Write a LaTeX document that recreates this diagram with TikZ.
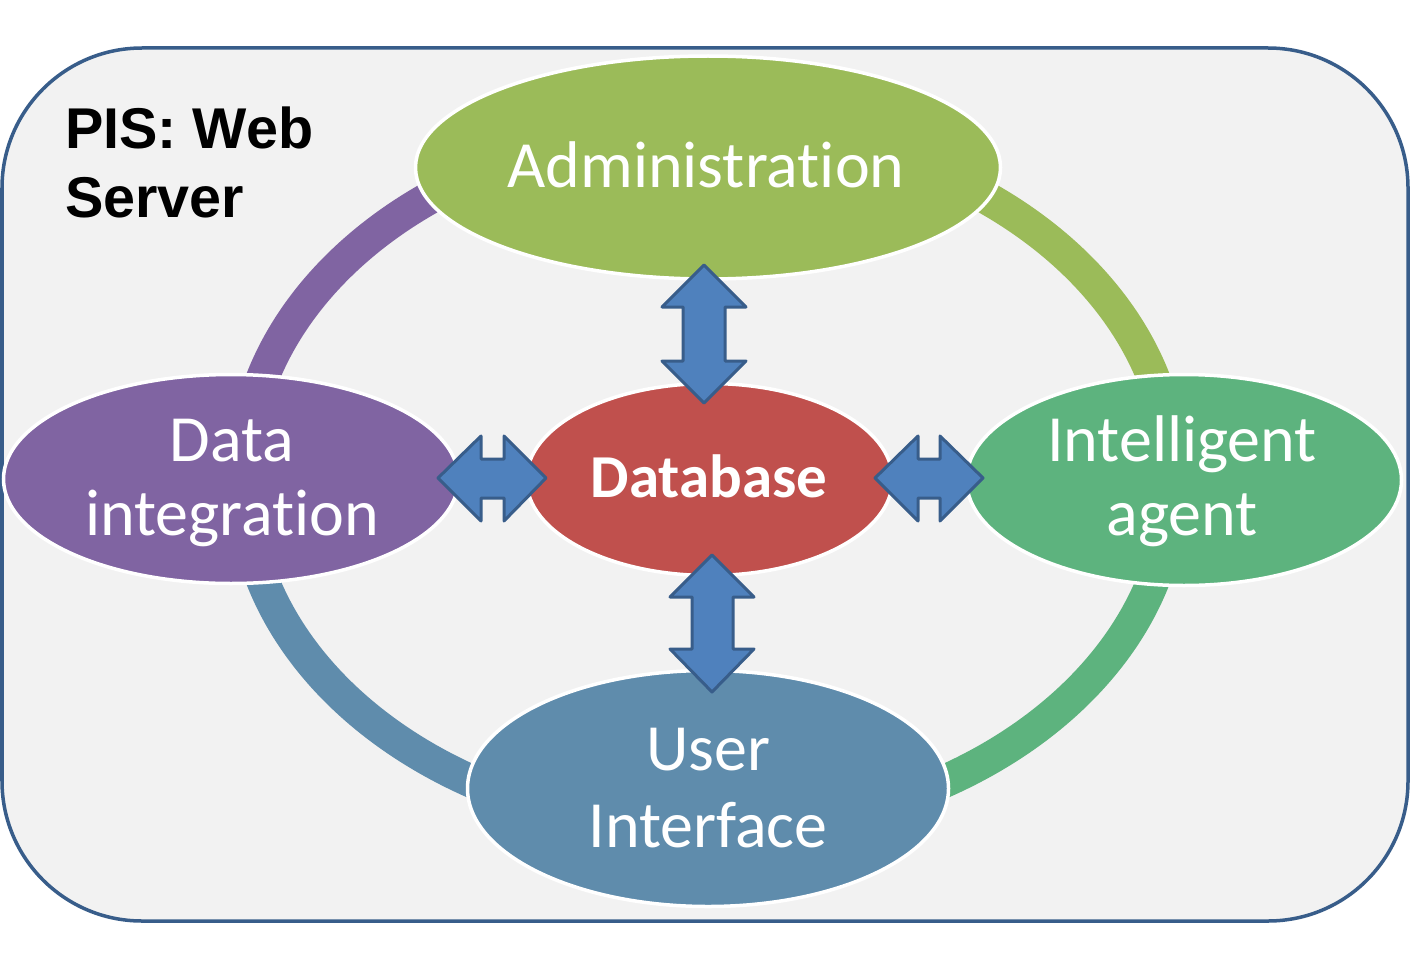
\documentclass[tikz,border=0pt]{standalone}
\usepackage{fontspec}
\setmainfont{Carlito}[Ligatures=NoCommon]
\newfontfamily\pisfont{Liberation Sans}
\usetikzlibrary{shapes.geometric}
\definecolor{bgfill}{HTML}{F2F2F2}
\definecolor{framec}{HTML}{385D8A}
\definecolor{cadmin}{HTML}{9BBB59}
\definecolor{cdata}{HTML}{8064A2}
\definecolor{cintel}{HTML}{5DB37E}
\definecolor{cui}{HTML}{5F8CAC}
\definecolor{cdb}{HTML}{C0504D}
\definecolor{carrow}{HTML}{4F81BD}
\tikzset{
  frame/.style={draw=framec, line width=3.5pt, fill=bgfill, rounded corners=140pt},
  ring/.style={line width=33pt},
  bubble/.style={ellipse, draw=white, line width=3.5pt, inner sep=0pt, outer sep=0pt},
  lbl/.style={text=white, inner sep=0pt, anchor=base, font=\fontsize{66}{75}\selectfont},
  dblbl/.style={text=white, inner sep=0pt, anchor=base, font=\fontsize{61}{70}\selectfont\bfseries},
  pislbl/.style={text=black, inner sep=0pt, anchor=base west, font=\pisfont\fontsize{57.5}{69}\selectfont\bfseries},
  blockarrow/.style={fill=carrow, draw=framec, line width=3pt, line join=round},
}
\begin{document}
\begin{tikzpicture}[x=1pt, y=-1pt]
\useasboundingbox (0,0) rectangle (1410,963);
% frame
\draw[frame] (2,48) rectangle (1408,921);
% ring arcs
\coordinate (ringc) at (708,479);
\draw[ring, draw=cdata]  (ringc) ++(180:465 and 351) arc[start angle=180, end angle=270, x radius=465, y radius=351];
\draw[ring, draw=cadmin] (ringc) ++(270:465 and 351) arc[start angle=270, end angle=360, x radius=465, y radius=351];
\draw[ring, draw=cintel] (ringc) ++(0:465 and 351) arc[start angle=0, end angle=90, x radius=465, y radius=351];
\draw[ring, draw=cui]    (ringc) ++(90:465 and 351) arc[start angle=90, end angle=180, x radius=465, y radius=351];
% bubbles
\node[bubble, fill=cadmin, minimum width=585pt, minimum height=223pt] (admin) at (708,167.5) {};
\node[bubble, fill=cdata, minimum width=455pt, minimum height=209pt] (data) at (231,479) {};
\node[bubble, fill=cintel, minimum width=435pt, minimum height=211pt] (intel) at (1184,480) {};
\node[bubble, fill=cui, minimum width=481pt, minimum height=236pt] (ui) at (708,788.5) {};
\node[bubble, fill=cdb, minimum width=366pt, minimum height=192pt] (db) at (709.5,479.5) {};
% block arrows
\draw[blockarrow] (704,265) -- (746,307) -- (725,307) -- (725,361) -- (746,361) -- (704,403)
  -- (662,361) -- (683,361) -- (683,307) -- (662,307) -- cycle;
\draw[blockarrow] (712,555) -- (754,597) -- (733,597) -- (733,649) -- (754,649) -- (712,692)
  -- (670,649) -- (692,649) -- (692,597) -- (670,597) -- cycle;
\draw[blockarrow] (438,478) -- (481,436) -- (481,459) -- (504,459) -- (504,436) -- (546,478)
  -- (504,521) -- (504,498) -- (481,498) -- (481,521) -- cycle;
\draw[blockarrow] (875,478) -- (918,436) -- (918,459) -- (940,459) -- (940,436) -- (983,478)
  -- (940,521) -- (940,498) -- (918,498) -- (918,521) -- cycle;
% labels
\node[lbl] (adminT) at (706,187) {Administration};
\node[lbl] (dataT1) at (232,461) {Data};
\node[lbl] (dataT2) at (232,535) {integration};
\node[lbl] (intelT1) at (1182,461) {Intelligent};
\node[lbl] (intelT2) at (1182,535) {agent};
\node[lbl] (uiT1) at (708,770) {User};
\node[lbl] (uiT2) at (708,847) {Interface};
\node[dblbl] (dbT) at (709,497) {Database};
\node[pislbl] (pis1) at (65,148) {PIS: Web};
\node[pislbl] (pis2) at (65,217) {Server};
\end{tikzpicture}
\end{document}
